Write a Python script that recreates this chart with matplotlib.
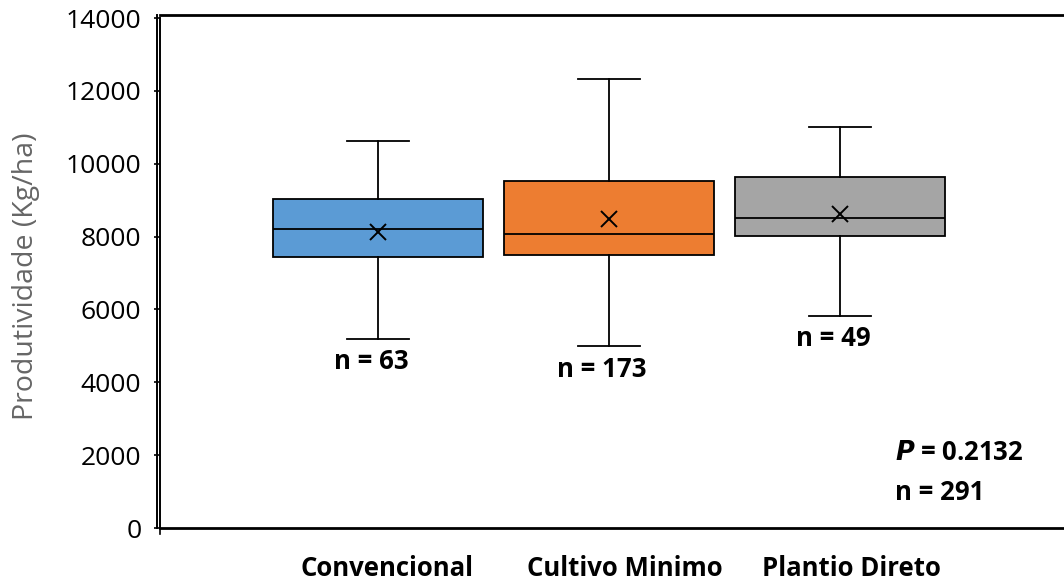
import matplotlib

matplotlib.use("Agg")
import matplotlib.pyplot as plt
from matplotlib.lines import Line2D

# produtividade por sistema de preparo do solo
sistemas = ["Convencional", "Cultivo Minimo", "Plantio Direto"]
whisker_low = [5200, 5000, 5830]
q1 = [7440, 7500, 8020]
medianas = [8200, 8080, 8520]
q3 = [9030, 9520, 9630]
whisker_high = [10620, 12320, 11000]
medias = [8130, 8480, 8620]
n_obs = [63, 173, 49]
cores = ["#5B9BD5", "#ED7D31", "#A5A5A5"]
p_valor = 0.2132
n_total = 291

plt.rcParams["font.family"] = ["Open Sans", "DejaVu Sans"]

fig = plt.figure(figsize=(10.64, 5.81), dpi=100)
ax = fig.add_axes([160 / 1064, 53 / 581, 1 - 160 / 1064, 510 / 581])

stats = []
for i, nome in enumerate(sistemas):
    stats.append(dict(label=nome, whislo=whisker_low[i], q1=q1[i], med=medianas[i],
                      q3=q3[i], whishi=whisker_high[i], mean=medias[i]))

pos = [1, 2, 3]
bp = ax.bxp(stats, positions=pos, widths=0.91, patch_artist=True, showmeans=True,
            showfliers=False,
            boxprops=dict(edgecolor="black", linewidth=1.3),
            medianprops=dict(color="black", linewidth=1.3),
            whiskerprops=dict(color="black", linewidth=1.3),
            capprops=dict(color="black", linewidth=1.3),
            capwidths=0.27,
            meanprops=dict(marker="x", markeredgecolor="black", markersize=11,
                           markeredgewidth=1.4))
for caixa, cor in zip(bp["boxes"], cores):
    caixa.set_facecolor(cor)

for x, lo, n in zip(pos, whisker_low, n_obs):
    ax.annotate(f"n = {n}", xy=(x - 0.03, lo), xytext=(0, -7), textcoords="offset points",
                ha="center", va="top", fontsize=18.5, fontweight="bold")

fig.text(895 / 1064, 1 - 453 / 581, "$\\mathbfit{P}$" + f" = {p_valor:.4f}",
         fontsize=18.5, fontweight="bold", va="center")
fig.text(895 / 1064, 1 - 493 / 581, f"n = {n_total}",
         fontsize=18.5, fontweight="bold", va="center")

ax.set_xlim(0.056, 3.97)
ax.set_ylim(0, 14000)
ax.set_yticks(range(0, 14001, 2000))
ax.tick_params(axis="y", direction="out", length=4.5, width=1.2, pad=9, labelsize=19)
ax.set_xticks([])

# rótulos das categorias, levemente deslocados para a direita
for x, nome, dx in zip(pos, sistemas, [9, 16, 11]):
    ax.annotate(nome, xy=(x, 0), xycoords=("data", "axes fraction"),
                xytext=(dx, -40), textcoords="offset pixels",
                ha="center", va="center", fontsize=18.5, fontweight="bold")

ax.spines["right"].set_visible(False)
ax.spines["left"].set_linewidth(1.4)
ax.spines["bottom"].set_linewidth(2.0)
ax.spines["top"].set_linewidth(2.0)
ax.spines["top"].set_position(("axes", 1.006))

# contorno da area de plotagem (linha dupla a esquerda)
fig.add_artist(Line2D([157 / 1064, 157 / 1064], [1 - 15 / 581, 1 - 528 / 581],
                      transform=fig.transFigure, color="black", lw=1.4))
fig.add_artist(Line2D([160 / 1064, 160 / 1064], [1 - 528 / 581, 1 - 534 / 581],
                      transform=fig.transFigure, color="black", lw=1.2))

fig.text(26 / 1064, 1 - 276 / 581, "Produtividade (Kg/ha)", rotation=90,
         ha="center", va="center", fontsize=20.5, color="#666666")

fig.savefig("out.png", dpi=100)
